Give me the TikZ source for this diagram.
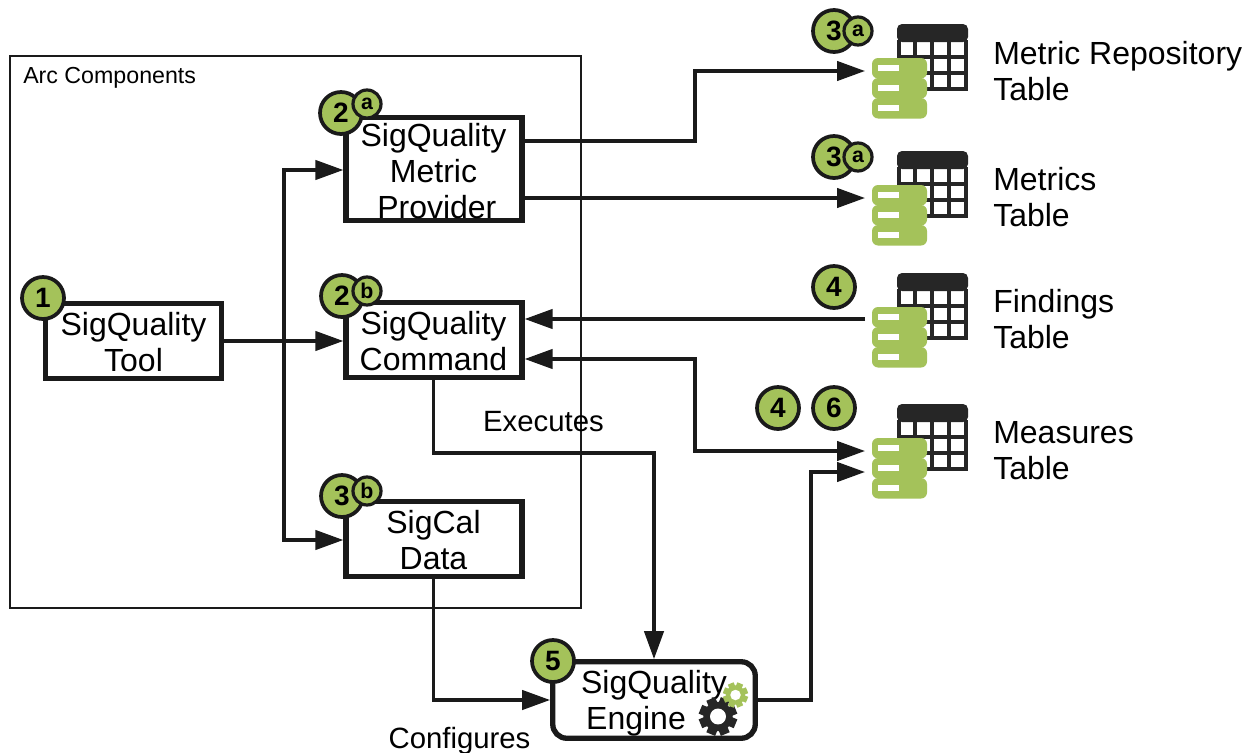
\documentclass[tikz,border=0pt]{standalone}
\usepackage{fontspec}
\setmainfont{Liberation Sans}
\usetikzlibrary{arrows.meta}
\definecolor{lime}{HTML}{A4C25A}
\definecolor{ink}{HTML}{1A1A1A}
\definecolor{head}{HTML}{262626}
\def\px{0.75pt}
\tikzset{
  boxnode/.style={draw=ink,fill=white,line width=4pt,inner sep=0pt},
  boxtext/.style={inner sep=0pt,align=center,font=\fontsize{24}{27}\selectfont},
  bigbadge/.style={circle,draw=ink,fill=lime,line width=2.8pt,minimum size=42*\px,inner sep=0pt,font=\fontsize{21}{21}\selectfont\bfseries},
  smallbadge/.style={circle,draw=ink,fill=lime,line width=2.4pt,minimum size=28*\px,inner sep=0pt,font=\fontsize{16}{16}\selectfont\bfseries},
  conn/.style={draw=ink,line width=2.5pt},
  tipped/.style={conn,-{Triangle[length=21pt,width=14.5pt]}},
  bothtipped/.style={conn,{Triangle[length=21pt,width=14.5pt]}-{Triangle[length=21pt,width=14.5pt]}},
  sidelabel/.style={anchor=west,align=left,inner sep=0pt,font=\fontsize{24}{27}\selectfont},
  midlabel/.style={inner sep=0pt,font=\fontsize{22}{26}\selectfont},
  tabledb/.pic={
    \fill[head,rounded corners=5*\px] (25,18) -- (25,0) -- (96,0) -- (96,18) -- cycle;
    \draw[head,line width=2.8pt] (26.8,16) -- (26.8,65.3) -- (94.2,65.3) -- (94.2,16)
      (43,16) -- (43,65.3) (60,16) -- (60,65.3) (77,16) -- (77,65.3)
      (26.8,33) -- (94.2,33) (26.8,49) -- (94.2,49);
    \foreach \t in {34,54,74}{
      \fill[lime,rounded corners=6*\px] (0,\t) rectangle (55,\t+20.5);
      \fill[white] (6,\t+7) rectangle (27,\t+13);
    }
    \node[inner sep=0pt,outer sep=7*\px,minimum width=55*\px,minimum height=60*\px] (-db) at (27.5,64) {};
  }
}
\newcommand{\gearshape}[4]{% x, y, scale, colour
  \begin{scope}[shift={(#1,#2)}]
    \foreach \a in {0,45,...,315}{
      \fill[#4,rotate=\a+22.5] (-0.25*#3,0) rectangle (0.25*#3,1.0*#3);
    }
    \fill[#4] (0,0) circle[radius=0.77*#3*\px];
    \fill[white] (0,0) circle[radius=0.42*#3*\px];
  \end{scope}
}
\begin{document}
\begin{tikzpicture}[x=0.75pt,y=-0.75pt]
\useasboundingbox (0,0) rectangle (1254,753);
\fill[white] (0,0) rectangle (1254,753);

\node[draw=ink,line width=1.5pt,minimum width=571*\px,minimum height=552*\px,inner sep=0pt] (arc) at (295.5,331.5) {};
\node[inner sep=0pt,anchor=west,font=\fontsize{17.4}{20}\selectfont] (arclabel) at (23,78) {Arc Components};

\node[boxnode,minimum width=175.5*\px,minimum height=74.5*\px] (tool) at (133.5,341) {};
\node[boxtext] (tooltext) at (133.5,342) {SigQuality\\Tool};
\node[boxnode,minimum width=176*\px,minimum height=102.5*\px] (provider) at (434,169) {};
\node[boxtext] (providertext) at (433.5,171) {SigQuality\\Metric\\\hspace{5pt}Provider};
\node[boxnode,minimum width=176*\px,minimum height=74.5*\px] (command) at (434,340) {};
\node[boxtext] (commandtext) at (433.5,341) {SigQuality\\Command};
\node[boxnode,minimum width=176*\px,minimum height=74.5*\px] (sigcal) at (434,539) {};
\node[boxtext] (sigcaltext) at (433.5,540) {SigCal\\Data};
\node[boxnode,rounded corners=14*\px,minimum width=202.5*\px,minimum height=76.5*\px] (engine) at (654,700) {};
\node[boxtext] (enginetext) at (654,703) {SigQuality\\\hspace{-27pt}Engine};

\pic (repo) at (872,24) {tabledb};
\pic (metrics) at (872,151) {tabledb};
\pic (findings) at (872,273) {tabledb};
\pic (measures) at (872,404) {tabledb};

\coordinate (split) at (284,341);
\draw[conn] (tool.east |- split) -- (split);
\draw[tipped] (split) -- (command.west |- split);
\draw[tipped] (split) |- (provider.west |- 0,170);
\draw[tipped] (split) |- (sigcal.west |- 0,540);
\draw[tipped] (provider.east |- 0,141) -- (695,141) -- (695,71) -- (repo-db.west |- 0,71);
\draw[tipped] (provider.east |- 0,198) -- (metrics-db.west |- 0,198);
\draw[tipped] (findings-db.west |- 0,319) -- (command.east |- 0,319);
\draw[bothtipped] (command.east |- 0,359) -- (695,359) -- (695,451) -- (measures-db.west |- 0,451);
\draw[tipped] (command.south -| 433.5,0) -- (433.5,453) -- (654,453) -- (engine.north);
\draw[tipped] (sigcal.south -| 433.5,0) -- (433.5,700) -- (engine.west);
\draw[tipped] (engine.east) -- (811,700) -- (811,472) -- (measures-db.west |- 0,472);

\gearshape{718}{716.5}{19}{head}
\gearshape{735.5}{695}{12.5}{lime}

\node[bigbadge] (b1) at (43,298) {1};
\node[bigbadge] (b2a) at (341,113) {2};
\node[smallbadge] (s2a) at (367,104) {a};
\node[bigbadge] (b2b) at (342,296) {2};
\node[smallbadge] (s2b) at (367,291) {b};
\node[bigbadge] (b3b) at (342,496) {3};
\node[smallbadge] (s3b) at (367,491) {b};
\node[bigbadge] (b5) at (553,661) {5};
\node[bigbadge] (b3a) at (834,31) {3};
\node[smallbadge] (s3a) at (858,31) {a};
\node[bigbadge] (b3c) at (834,157) {3};
\node[smallbadge] (s3c) at (858,157) {a};
\node[bigbadge] (b4) at (834,287) {4};
\node[bigbadge] (b4m) at (778,408) {4};
\node[bigbadge] (b6) at (834,408) {6};

\node[sidelabel] (lrepo) at (993,71.5) {Metric Repository\\Table};
\node[sidelabel] (lmetrics) at (993,197.5) {Metrics\\Table};
\node[sidelabel] (lfindings) at (993,319) {Findings\\Table};
\node[sidelabel] (lmeasures) at (993,451) {Measures\\Table};
\node[midlabel] (lexec) at (543.5,422) {Executes};
\node[midlabel] (lconf) at (459.5,741) {Configures};
\end{tikzpicture}
\end{document}
